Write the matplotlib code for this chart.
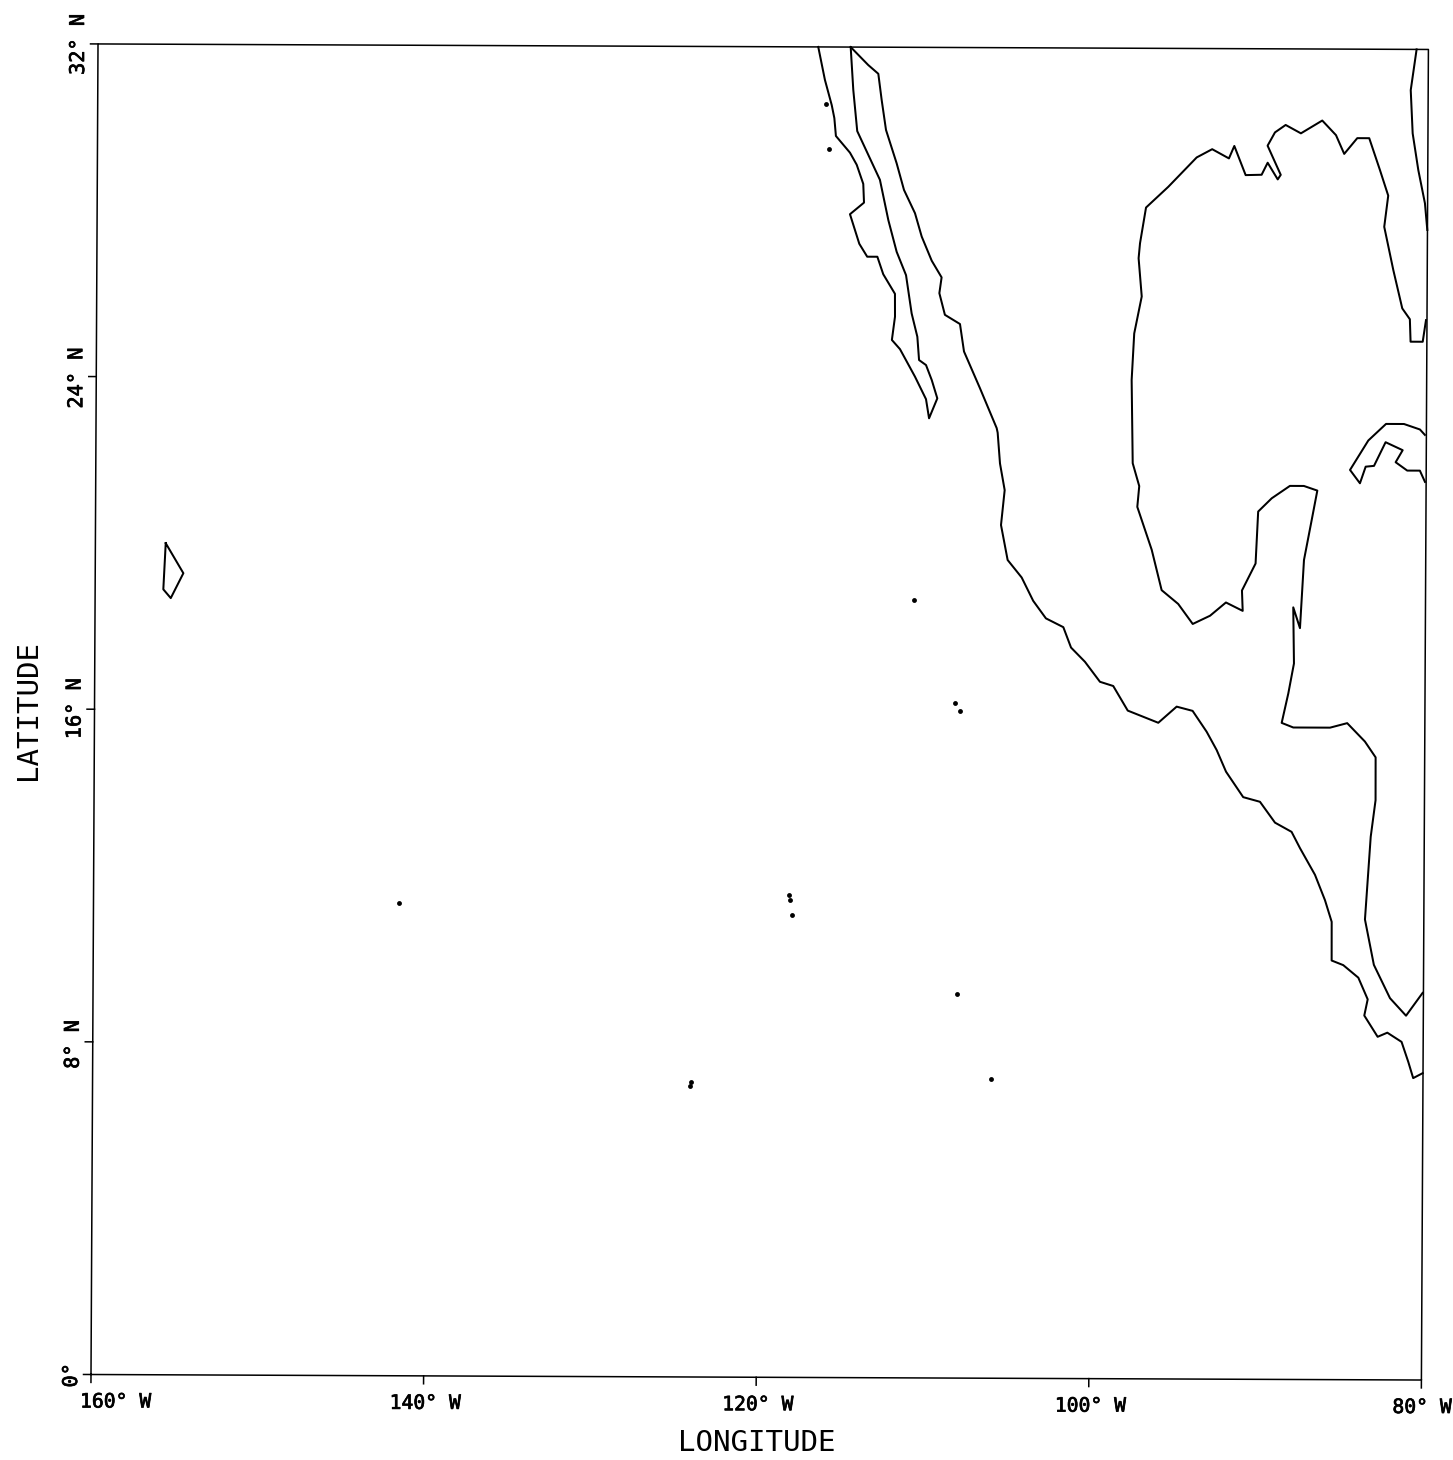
import numpy as np
import matplotlib
matplotlib.use("Agg")
import matplotlib.pyplot as plt
import matplotlib.patheffects as pe
from matplotlib.transforms import Affine2D

# coastlines (degrees, west is negative)
baja_lon = [-116.69, -116.28, -115.86, -115.70, -115.60, -114.75, -114.34, -113.94, -113.89, -114.73, -114.16, -113.68,
	-113.07, -112.71, -112.00, -111.99, -112.17, -111.68, -110.77, -110.10, -109.91, -109.42, -109.76, -110.11,
	-110.53, -110.64, -110.99, -111.34, -111.91, -112.42, -112.94, -114.32, -114.57, -114.74]
baja_lat = [32.00, 31.21, 30.60, 30.29, 29.86, 29.46, 29.17, 28.71, 28.26, 27.98, 27.27, 26.96,
	26.96, 26.54, 26.07, 25.52, 24.96, 24.74, 24.08, 23.54, 23.08, 23.56, 24.00, 24.36,
	24.48, 25.04, 25.60, 26.52, 27.08, 27.84, 28.81, 29.98, 30.97, 32.00]

pacific_lon = [-114.74, -113.68, -113.07, -112.86, -112.59, -111.94, -111.49, -110.82, -110.41, -109.80, -109.20, -109.33,
	-108.99, -108.08, -107.83, -106.86, -105.84, -105.78, -105.63, -105.34, -105.55, -105.14, -104.29, -103.59,
	-102.82, -101.77, -101.30, -100.46, -99.55, -98.75, -97.87, -96.03, -94.93, -93.97, -93.12, -92.51,
	-91.94, -90.90, -89.89, -88.98, -87.98, -87.47, -86.56, -85.95, -85.54, -85.53, -84.83, -83.92,
	-83.35, -83.55, -82.74, -82.16, -81.30, -80.89, -80.59, -80.02]
pacific_lat = [32.00, 31.57, 31.36, 30.73, 30.01, 29.21, 28.57, 28.01, 27.45, 26.87, 26.47, 26.09,
	25.57, 25.35, 24.69, 23.81, 22.85, 22.74, 22.00, 21.36, 20.52, 19.68, 19.26, 18.70,
	18.28, 18.07, 17.58, 17.24, 16.76, 16.66, 16.07, 15.78, 16.17, 16.07, 15.57, 15.13,
	14.61, 14.00, 13.89, 13.39, 13.17, 12.78, 12.14, 11.53, 11.01, 10.08, 9.97, 9.67,
	9.15, 8.76, 8.25, 8.35, 8.13, 7.65, 7.26, 7.38]

gulf_lon = [-80.06, -80.25, -80.98, -81.03, -81.49, -82.04, -82.60, -82.37, -82.88, -83.53, -84.25, -85.03,
	-85.53, -86.36, -87.64, -88.56, -89.20, -89.64, -88.84, -89.02, -89.63, -89.99, -90.95, -91.64,
	-91.96, -92.97, -93.90, -95.60, -96.93, -97.28, -97.36, -97.16, -97.60, -97.74, -97.65, -97.25,
	-97.36, -96.48, -95.87, -94.87, -93.99, -92.95, -92.00, -90.99, -91.04, -90.23, -90.09, -89.28,
	-88.19, -87.35, -86.54, -86.87, -87.32, -87.54, -87.95, -87.89, -88.22, -88.61, -87.91, -85.70,
	-84.67, -83.60, -82.95, -82.94, -83.22, -83.54, -82.99, -82.01, -81.04, -80.05]
gulf_lat = [25.49, 24.97, 24.97, 25.51, 25.77, 26.69, 27.73, 28.48, 29.10, 29.86, 29.86, 29.48,
	29.93, 30.28, 29.97, 30.17, 29.99, 29.67, 28.97, 28.86, 29.26, 28.97, 28.96, 29.66,
	29.36, 29.58, 29.38, 28.67, 28.17, 27.31, 26.95, 26.03, 25.14, 24.02, 22.02, 21.47,
	20.97, 19.94, 18.97, 18.64, 18.16, 18.36, 18.68, 18.48, 18.97, 19.62, 20.87, 21.19,
	21.49, 21.49, 21.38, 20.67, 19.71, 18.07, 18.57, 17.22, 16.50, 15.79, 15.68, 15.68,
	15.79, 15.35, 14.97, 13.94, 13.06, 11.07, 9.98, 9.18, 8.76, 9.31]

cuba_lon = [-80.09, -80.39, -81.35, -82.43, -83.49, -84.58, -83.98, -83.64, -83.14, -82.45, -81.42, -81.84, -81.14, -80.38, -80.07]
cuba_lat = [22.73, 22.86, 22.99, 22.99, 22.59, 21.88, 21.56, 21.96, 21.98, 22.55, 22.36, 22.07, 21.87, 21.87, 21.60]

florida_lon = [-80.01, -80.16, -80.57, -80.92, -81.05, -80.71]
florida_lat = [27.66, 28.30, 29.10, 29.98, 31.02, 32.00]

hawaii_lon = [-155.77, -154.70, -155.45, -155.90, -155.77]
hawaii_lat = [20.00, 19.28, 18.68, 18.89, 20.00]

# the small dots
dot_lon = [-116.21, -116.01, -110.76, -108.24, -107.98, -141.60, -118.18, -118.12, -118.00, -108.05, -124.02, -124.10, -105.95]
dot_lat = [30.63, 29.55, 18.70, 16.24, 16.04, 11.37, 11.60, 11.49, 11.13, 9.24, 7.09, 7.00, 7.20]

lon_ticks = [-160, -140, -120, -100, -80]
lon_labels = ["160\u00b0 W", "140\u00b0 W", "120\u00b0 W", "100\u00b0 W", "80\u00b0 W"]
lat_ticks = [0, 8, 16, 24, 32]
lat_labels = ["0\u00b0", "8\u00b0 N", "16\u00b0 N", "24\u00b0 N", "32\u00b0 N"]

W, H = 1453, 1460
X0, Y0 = 91, H - 1374.5

fig = plt.figure(figsize=(W / 100, H / 100), dpi=100, facecolor="white")
ax = fig.add_axes([X0 / W, Y0 / H, 1330.4 / W, 1330.56 / H])
ax.set_xlim(-160, -80)
ax.set_ylim(0, 32)
ax.set_axis_off()

# the scanned page sits slightly crooked
crooked = Affine2D().translate(-X0, -Y0) + Affine2D(np.array([[1, 0.00527, 0], [-0.00415, 1, 0], [0, 0, 1]])) + Affine2D().translate(X0, Y0)
trans = ax.transData + crooked

for xs, ys in [(baja_lon, baja_lat), (pacific_lon, pacific_lat), (gulf_lon, gulf_lat),
		(cuba_lon, cuba_lat), (florida_lon, florida_lat), (hawaii_lon, hawaii_lat)]:
	ax.plot(xs, ys, color="black", lw=1.45, transform=trans, clip_on=False)

ax.plot(dot_lon, dot_lat, "o", color="black", ms=3.5, mew=0, transform=trans, clip_on=False)

# frame and ticks
ax.plot([-160, -80, -80, -160, -160], [0, 0, 32, 32, 0], color="black", lw=1.1, transform=trans, clip_on=False)
for t in lon_ticks:
	ax.plot([t, t], [0, -0.19], color="black", lw=1.1, transform=trans, clip_on=False)
for t in lat_ticks:
	ax.plot([-160, -160.45], [t, t], color="black", lw=1.1, transform=trans, clip_on=False)

font = "DejaVu Sans Mono"
heavy = [pe.withStroke(linewidth=0.5, foreground="black")]
lon_shift = [-11, -34, -34, -34, -29]
for t, lab, dx in zip(lon_ticks, lon_labels, lon_shift):
	ax.annotate(lab, (t, 0), xycoords=trans, xytext=(dx, -33), textcoords="offset pixels",
		ha="left", va="baseline", family=font, fontsize=14.2, color="black", annotation_clip=False, path_effects=heavy)

lat_shift = [-13, -27, -30, -32, -31]
for t, lab, dy in zip(lat_ticks, lat_labels, lat_shift):
	ax.annotate(lab, (-160, t), xycoords=trans, xytext=(-10, dy), textcoords="offset pixels",
		ha="right", va="bottom", rotation=90, family=font, fontsize=14.6, color="black", annotation_clip=False, path_effects=heavy)

fig.text(757 / W, (H - 1443) / H, "LONGITUDE", ha="center", va="center", family=font, fontsize=21, color="black")
fig.text(28 / W, (H - 710) / H, "LATITUDE", ha="center", va="center", rotation=90, family=font, fontsize=21, color="black")

fig.savefig("out.png", dpi=100)
